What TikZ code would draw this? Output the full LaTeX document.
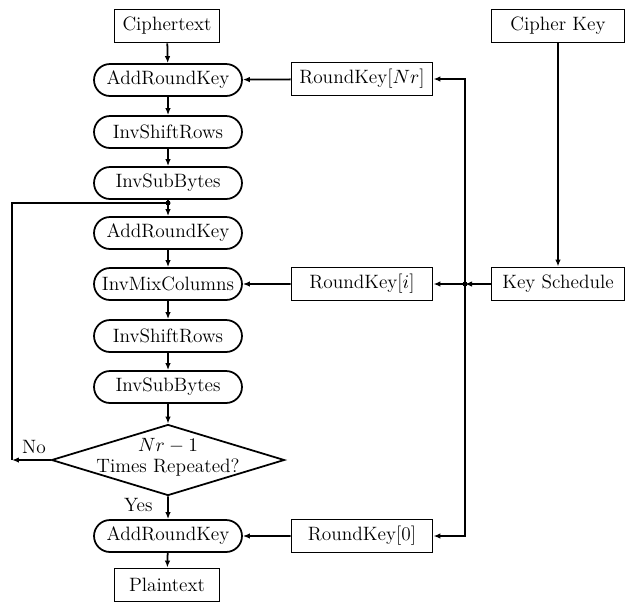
\documentclass[tikz,border=0pt]{standalone}
\usepackage{amsmath,amssymb}
\usetikzlibrary{shapes.misc,shapes.geometric,arrows.meta}

\begin{document}
\begin{tikzpicture}[x=0.02cm,y=-0.02cm,
    font=\fontsize{11}{13}\selectfont,
    box/.style={draw,line width=1.1pt,minimum height=0.66cm,inner sep=2pt},
    stage/.style={draw,line width=1pt,rounded rectangle,minimum width=3.1cm,minimum height=0.64cm,inner sep=2pt},
    decision/.style={draw,line width=1pt,diamond,aspect=3.28,minimum width=4.66cm,minimum height=1.42cm,inner sep=-5pt,align=center},
    flow/.style={line width=1pt,-{Latex[length=1.4mm,width=1.1mm]}},
    link/.style={line width=1pt}]
  \useasboundingbox (0,0) rectangle (626,606);
  % left column
  \node [box,minimum width=2.1cm] (ct) at (167,26) {Ciphertext};
  \node [stage] (ark1) at (168,80) {AddRoundKey};
  \node [stage] (isr1) at (168,132) {InvShiftRows};
  \node [stage] (isb1) at (168,183) {InvSubBytes};
  \node [stage] (ark2) at (168,233) {AddRoundKey};
  \node [stage] (imc) at (168,284) {InvMixColumns};
  \node [stage] (isr2) at (168,336) {InvShiftRows};
  \node [stage] (isb2) at (168,387) {InvSubBytes};
  \node [decision] (rep) at (168,460) {\raisebox{5pt}{\shortstack{$Nr-1$\\Times Repeated?}}};
  \node [stage] (ark3) at (168,536) {AddRoundKey};
  \node [box,minimum width=2.1cm] (pt) at (167,585) {Plaintext};
  % round keys
  \node [box,minimum width=2.82cm] (rkn) at (362,79) {RoundKey[$Nr$]};
  \node [box,minimum width=2.82cm] (rki) at (362,284) {RoundKey[$i$]};
  \node [box,minimum width=2.82cm] (rk0) at (362,536) {RoundKey[0]};
  % key expansion
  \node [box,minimum width=2.66cm] (ck) at (558,26) {Cipher Key};
  \node [box,minimum width=2.66cm] (ks) at (558,284) {Key Schedule};
  \coordinate (bus) at (465,284);
  \coordinate (join) at (168,203);
  \coordinate (back) at (12,460);

  \draw [flow] (ct) -- (ark1);
  \draw [flow] (ark1) -- (isr1);
  \draw [flow] (isr1) -- (isb1);
  \draw [flow] (isb1) -- (ark2);
  \draw [flow] (ark2) -- (imc);
  \draw [flow] (imc) -- (isr2);
  \draw [flow] (isr2) -- (isb2);
  \draw [flow] (isb2) -- (rep);
  \draw [flow] (rep) -- node [left=5pt,pos=0.4] {Yes} (ark3);
  \draw [flow] (ark3) -- (pt);
  % loop back
  \draw [flow] (rep.west) -- node [above,pos=0.43] {No} (back);
  \draw [link] (back) |- (join);
  \fill (join) circle (2.5);

  \draw [flow] (rkn) -- (ark1);
  \draw [flow] (rki) -- (imc);
  \draw [flow] (rk0) -- (ark3);
  \draw [flow] (ck) -- (ks);
  \draw [flow] (ks) -- (bus);
  \fill (bus) circle (2.5);
  \draw [flow] (bus) -- (rki);
  \draw [flow] (bus) |- (rkn);
  \draw [flow] (bus) |- (rk0);
\end{tikzpicture}
\end{document}
